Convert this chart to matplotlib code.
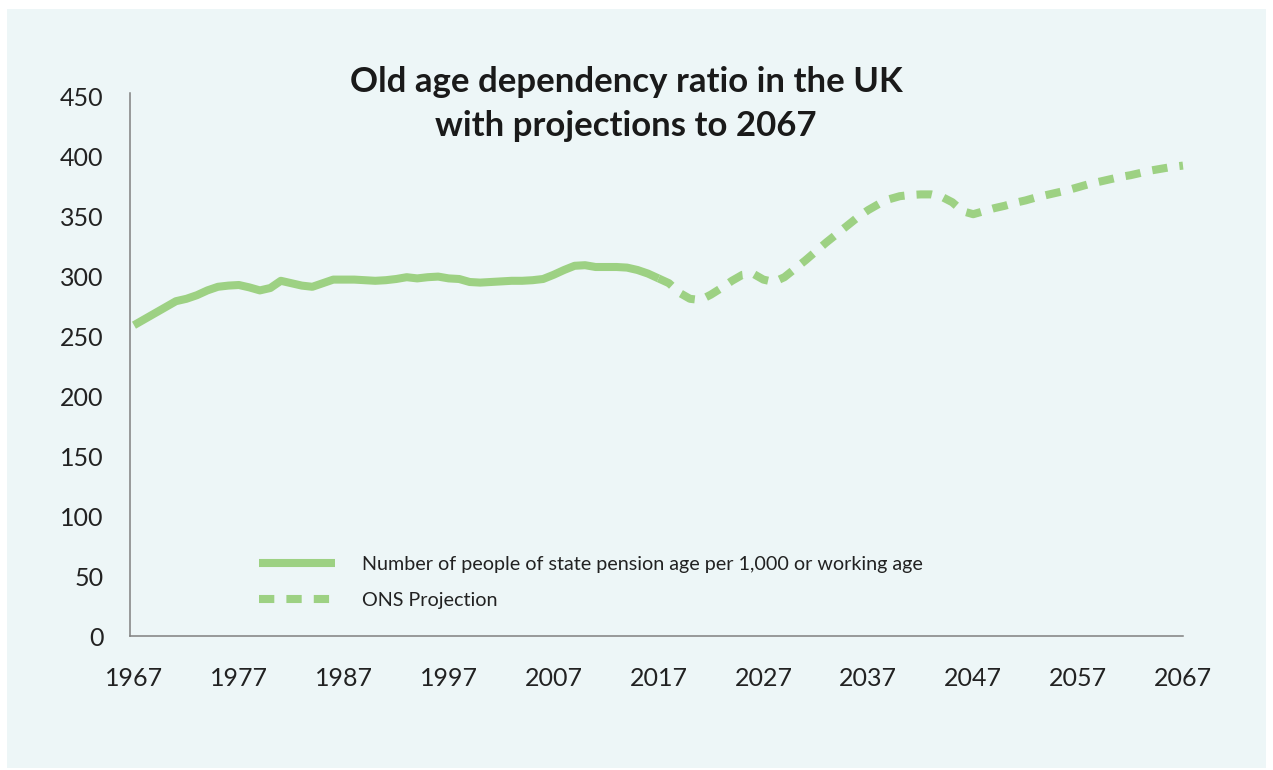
import matplotlib.pyplot as plt
from matplotlib.patches import Rectangle

plt.rcParams['font.family'] = ['Lato', 'DejaVu Sans']

# historical series 1967-2017
hist_years = list(range(1967, 2018))
hist_vals = [259, 264, 269, 274, 279, 281, 284, 288, 291, 292,
             292.5, 290.5, 288, 290, 296, 294, 292, 291, 294, 297,
             297, 297, 296.5, 296, 296.5, 297.5, 299, 298, 299, 299.5,
             298, 297.5, 295, 294.5, 295, 295.5, 296, 296, 296.5, 297.5,
             301, 305, 308.5, 309, 307.5, 307.5, 307.5, 307, 305, 302,
             298]

# ONS projection 2017-2067
proj_years = list(range(2017, 2068))
proj_vals = [298, 294, 286, 281, 280, 284.5, 290, 296, 301, 302,
             297, 295, 299, 306, 313, 320.5, 328, 335, 342, 349,
             355, 360, 364, 366.5, 367.5, 368, 368, 366, 361.5, 354,
             351.5, 354, 356.5, 358.5, 361, 363, 365.5, 367.5, 369.5, 371.5,
             374, 376.5, 378.5, 380.5, 382.5, 384, 386, 388, 389.5, 391,
             392]

x_ticks = list(range(1967, 2068, 10))
y_ticks = list(range(0, 451, 50))

green = '#9dd183'
panel = '#edf6f7'

fig = plt.figure(figsize=(12.73, 7.70), dpi=100)
fig.patch.set_facecolor('white')
bg = Rectangle((7 / 1273, 2 / 770), 1259 / 1273, 759 / 770,
               transform=fig.transFigure, facecolor=panel,
               edgecolor='none', zorder=-10)
fig.add_artist(bg)

ax = fig.add_axes([130 / 1273, 134 / 770, 1053 / 1273, 543 / 770])
ax.set_facecolor('none')

ax.plot(hist_years, hist_vals, color=green, lw=5.8, solid_capstyle='butt',
        label='Number of people of state pension age per 1,000 or working age',
        clip_on=False)
ax.plot(proj_years, proj_vals, color=green, lw=5.8, linestyle=(0, (1.9, 1.5)),
        dash_capstyle='butt', label='ONS Projection', clip_on=False)

ax.set_xlim(1966.62, 2066.62)
ax.set_ylim(0, 452.5)
ax.set_xticks(x_ticks)
ax.set_yticks(y_ticks)
ax.tick_params(axis='x', length=0, pad=22, labelsize=18, colors='#222222')
ax.tick_params(axis='y', length=0, pad=19, labelsize=18, colors='#222222')

for s in ['top', 'right']:
    ax.spines[s].set_visible(False)
for s in ['left', 'bottom']:
    ax.spines[s].set_color('#808080')
    ax.spines[s].set_linewidth(1.1)

fig.text(626 / 1273, (770 - 104) / 770,
         'Old age dependency ratio in the UK\nwith projections to 2067',
         ha='center', va='center', fontsize=25, fontweight='bold',
         color='#1a1a1a', linespacing=1.45)

ax.legend(loc='upper left', bbox_to_anchor=(249 / 1273, (770 - 546) / 770),
          bbox_transform=fig.transFigure, frameon=False, fontsize=14.2,
          handlelength=3.85, handletextpad=1.37, labelspacing=0.95,
          borderpad=0, labelcolor='#222222')

fig.savefig('out.png', dpi=100, facecolor='white')
